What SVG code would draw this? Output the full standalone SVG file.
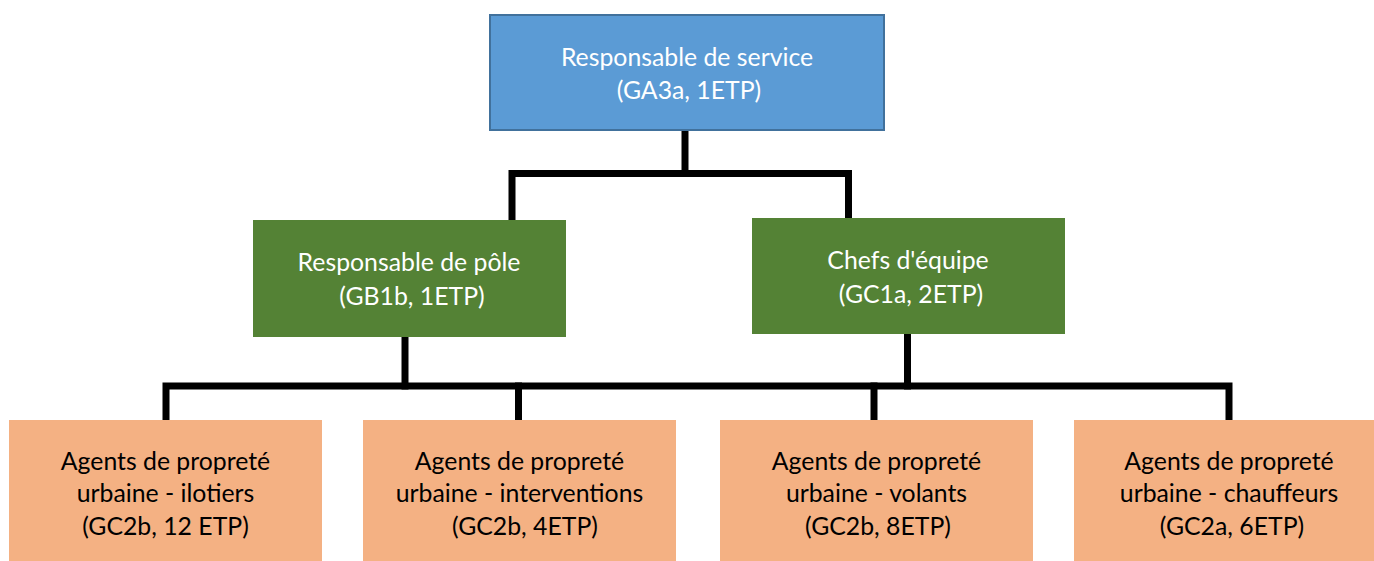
<svg xmlns="http://www.w3.org/2000/svg" width="1374" height="561" viewBox="0 0 1374 561">
<style>
  .t { font-family: Lato, "Open Sans", sans-serif; font-size: 24.8px; text-anchor: middle; }
  .w { fill: #ffffff; }
  .k { fill: #000000; }
  .blue { fill: #5B9BD5; stroke: #41719C; stroke-width: 2; }
  .green { fill: #548235; }
  .orange { fill: #F4B183; }
  .conn { fill: none; stroke: #000000; stroke-width: 7; stroke-linecap: square; stroke-linejoin: miter; }
</style>
<rect width="1374" height="561" fill="#ffffff"/>
<g id="connectors">
  <path class="conn" d="M685,131 V173.5"/>
  <path class="conn" d="M512,217 V173.5 H848.5 V215"/>
  <path class="conn" d="M405,337 V386"/>
  <path class="conn" d="M907.5,334 V386"/>
  <path class="conn" d="M166,417 V386 H1229 V417"/>
  <path class="conn" d="M518.5,386 V417"/>
  <path class="conn" d="M874,386 V417"/>
</g>
<g id="n-service">
  <rect class="blue" x="490" y="15" width="394" height="115"/>
  <text class="t w" x="687" y="66">Responsable de service</text>
  <text class="t w" x="689" y="99">(GA3a, 1ETP)</text>
</g>
<g id="n-pole">
  <rect class="green" x="253" y="220" width="313" height="117"/>
  <text class="t w" x="409" y="271">Responsable de pôle</text>
  <text class="t w" x="412" y="305">(GB1b, 1ETP)</text>
</g>
<g id="n-chefs">
  <rect class="green" x="752" y="218" width="313" height="116"/>
  <text class="t w" x="908" y="269">Chefs d'équipe</text>
  <text class="t w" x="911" y="303">(GC1a, 2ETP)</text>
</g>
<g id="n-ilotiers">
  <rect class="orange" x="9" y="420" width="313" height="141"/>
  <text class="t k" x="165.5" y="470">Agents de propreté</text>
  <text class="t k" x="165.5" y="502">urbaine - ilotiers</text>
  <text class="t k" x="165.5" y="535">(GC2b, 12 ETP)</text>
</g>
<g id="n-interventions">
  <rect class="orange" x="363" y="420" width="313" height="141"/>
  <text class="t k" x="519.5" y="470">Agents de propreté</text>
  <text class="t k" x="519.5" y="502">urbaine - interventions</text>
  <text class="t k" x="525" y="535">(GC2b, 4ETP)</text>
</g>
<g id="n-volants">
  <rect class="orange" x="720" y="420" width="313" height="141"/>
  <text class="t k" x="876.5" y="470">Agents de propreté</text>
  <text class="t k" x="876.5" y="502">urbaine - volants</text>
  <text class="t k" x="878" y="535">(GC2b, 8ETP)</text>
</g>
<g id="n-chauffeurs">
  <rect class="orange" x="1074" y="420" width="313" height="141"/>
  <text class="t k" x="1229" y="470">Agents de propreté</text>
  <text class="t k" x="1229" y="502">urbaine - chauffeurs</text>
  <text class="t k" x="1232" y="535">(GC2a, 6ETP)</text>
</g>
</svg>
